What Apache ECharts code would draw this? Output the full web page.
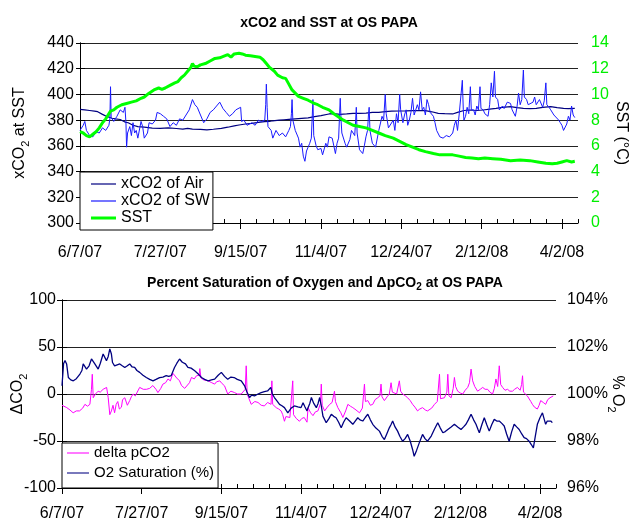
<!DOCTYPE html>
<html><head><meta charset="utf-8">
<script src="https://cdn.jsdelivr.net/npm/echarts@6/dist/echarts.min.js"></script>
<style>html,body{margin:0;padding:0;background:#fff}#c{width:635px;height:519px}</style>
</head><body><div id="c"></div>
<script>
// x positions are days since 6/7/07
const xTickDays = [0,50,100,150,200,250,300];

const airDays = [0,3,6,9,11,14,17,20,22,25,28,30,33,36,40,45,50,55,60,64,67,70,75,79,83,88,92,96,99,103,107,111,115,118,120,124,127,130,134,138,142,146,150,155,158,162,166,170,174,178,182,186,190,194,199,203,207,211,215,219,223,227,232,235,239,243,247,251,255,259,263,268,272,276,280,284,288,293,297,301,304,308];
const airVals = [388.4,388,387.5,387,386.6,384.5,382.7,381.5,381,380.5,378.5,378,376,375,374.5,373.8,373.6,374,373.5,373,373.6,373,372.8,372.5,372.9,373.6,374.5,375.5,376.2,377,377.5,378.3,378.8,379,379.5,380,380.3,380.6,381,381.4,381.8,382.7,383.5,384.8,385,384.5,384.8,385.2,385.3,385.5,386,386,386.6,387,387.1,387.2,387.4,387.5,387.4,386.5,385.3,385,384.8,386,387.5,387.9,387.5,387.9,388.5,389.2,390,390.5,389.8,389.2,389,389.2,390,390.5,389.8,389.2,389,389.2];

const swDays = [0,1,2,3,4,6,8,10,12,14,16,18,18.6,19,19.4,21,23,25,27,28,28.6,29,29.6,31,32,33,34,35,36,37,38,39,40,42,43,45,47,48,50,52,54,56,58,60,62,64,66,68,70,71.5,73,75,77,79,81,83,85,87,89,91,93,95,97,100,100.6,102,104,107,109,111,113,115,115.6,116,116.5,117,119,120,122,124,126,128,130,131,131.6,132,132.5,134,136,137,138,139,140,141,142,143,144,145,145.5,147,148,150,151,153,154,155,157,158,159,160,161,161.6,162,162.5,163,165,166,168,169,171,171.6,172,172.5,174,176,177,178,179,179.6,180,180.5,182,184,186,188,189,190,190.6,192,193,195,196,197,198,199,199.6,201,202,203,204,205,206,207,208,209,210,211,212,213,214,215,216,217,218,220,221,222,224,226,228,230,232,233,234,235,236,237,238,238.6,239,240,241,242,243,243.6,245,246,247,248,249,249.6,251,252,254,255,256,257,258,258.6,260,261,263,264,266,268,269,271,272,273,274,275,276,276.6,278,279,280,282,283,284,286,288,289,290,290.6,292,293,295,296,298,299,300,301,302,303,304,305,306,307,308];
const swVals = [372,371,376,379,372,368,367,371,370,374,372,376,381,406,382,379,383,388,386,390,378,359,370,375,368,378,370,372,366,367,379,375,366,370,378,377,380,386,385,383,381,375,378,376,381,380,384,388,396,392,390,384,378,381,386,388,391,394,389,386,383,385,388,390,379,380,376,378,376,380,379,380,392,408,390,375,372,366,372,368,370,367,372,375,385,396,380,372,366,359,362,352,348,356,359,362,366,396,368,360,357,358,353,362,359,367,366,360,354,362,366,385,397,380,370,362,359,365,372,368,380,390,370,357,354,360,367,372,385,390,372,362,359,372,383,380,400,385,374,375,380,372,385,378,400,388,378,384,388,376,380,386,397,384,385,392,388,402,388,390,384,396,392,386,383,378,372,367,366,368,367,370,376,380,372,384,385,411,388,380,383,390,385,406,388,388,384,391,388,406,389,388,385,383,392,409,398,418,398,396,388,391,389,394,393,388,383,390,401,392,396,419,398,396,392,391,394,398,392,396,390,395,409,392,390,388,384,383,380,378,376,372,372,377,383,380,391,384,382];

const sstDays = [0,2,4,6,8,10,12,14,16,17,19,21,23,26,29,32,35,38,40,43,46,49,51,53,56,59,61,63,65,67,69,70,71,73,75,78,81,84,87,90,92,94,96,99,101,103,106,109,112,114,116,118,121,123,126,128,130,132,134,136,139,142,145,148,151,155,158,161,164,167,170,174,178,182,186,190,195,199,203,207,211,215,220,224,228,232,236,240,244,248,252,257,262,268,274,280,285,290,294,297,300,303,306,308];
const sstVals = [7.1,7.0,6.8,6.7,6.9,7.1,7.4,7.8,8.1,8.3,8.7,8.8,9.0,9.2,9.3,9.4,9.5,9.7,9.8,10.1,10.35,10.5,10.4,10.5,10.7,10.9,11.0,11.3,11.5,11.8,12.1,12.4,12.2,12.15,12.3,12.4,12.6,12.8,12.85,13.0,13.1,12.9,13.15,13.2,13.15,13.05,13.0,12.95,12.9,12.7,12.4,12.1,11.8,11.5,11.3,11.25,10.8,10.35,10.1,9.85,9.7,9.55,9.35,9.2,9.0,8.8,8.5,8.25,8.0,7.8,7.6,7.5,7.4,7.2,7.0,6.8,6.6,6.35,6.1,5.9,5.7,5.55,5.4,5.3,5.3,5.3,5.2,5.1,5.05,5.0,5.05,5.0,4.95,4.85,4.9,4.85,4.75,4.65,4.6,4.65,4.75,4.85,4.75,4.8];

const dpDays = [0,1.25,3,5,7,9,11,13,14.4,16,17.5,18.5,19,19.6,21,22.7,24,25.8,27,28,29,30,31,32,33,34,35,36,37.3,38,39.4,41,42.5,43.5,44.6,46,48.75,51,53,55,57,59,60.2,62,63.3,65,66.5,68,69.6,70.6,72,73.75,75,77,78,80,81.25,83,84.4,86,86.5,87.2,89,91.7,94,95.8,97,99,100.5,102,104,106,108.3,110,112.5,115,115.6,116.2,118.75,121,123,125,127,129,131.2,131.7,132.2,134.4,136,137.5,138.5,139.6,140.5,141.7,143,144.8,145.3,147,149,150.5,152,153.75,154.4,156,157.5,159,160.6,162.2,162.7,163.3,164.8,166.5,168,169.5,171,171.6,173.1,175,176.25,178,179.4,181,182.5,184.5,186.7,188.5,189.8,190.4,191.9,193.5,195,196.5,198.1,199.5,200.2,200.8,202.3,204,205.4,206.5,207.3,208.5,210,211.7,212.5,213.75,215.5,216.9,218.5,220,221.5,223.1,224.5,226.25,228,229.4,230.6,232,233.75,235.5,236.9,237.5,238,240,241.5,242.1,242.8,244.2,245.5,246.25,247,248.3,250,251.5,253,254.6,255.7,256.7,257.7,259,260.8,262.5,264,265.5,267.1,268.5,270.2,271.3,272.3,273.4,274.4,275.3,276.5,278,279.6,281,282.7,284,285.8,287.5,288.4,289,289.6,290.5,292,293.1,294.2,295.2,296.5,298.3,299.4,300.4,302,303.5,304.8,306.25,307.3,308.3];
const dpVals = [-12,-11,-14.5,-17,-20,-18,-18,-15,-11,-13,-11,5,21,-4,0,3,2,5,4,7,-4,-22,-18,-12,-20,-11,-8,-16,-14,-6,-4,-12,-7,-3,0,-2,7,5,5,6,9,5,1.5,6,10.5,12,16,14,22,20,17,14,9,6,7,12,17.6,16,19.4,20,27,17,15,14,12,10.5,13,14,11,8.7,0,3,1.5,0,0,5,30,0,-11,-8,-9,-12,-12.7,-9,-11,14,-11,-14.5,-16,-18,-22,-29,-24,-22,-25,14,-22,-26,-29,-26,-25,-30,-14.5,-20,-23,-19,-18,-10,10.5,-12,-18,-14,-11,-9,3,-8,-14.5,-20,-25,-18,-11,-13,-14.5,-17,-20,-15,10.5,-8,-7,-12,-11,-6,-4,-2,10.5,-3,-7,-3,0,12,2,3,0,14,3,0,-2,-4,-7,-11,-14,-18,-16,-14.5,-17,-18,-18,-15,-11,-8,21,-5,-7,-4,2,21,-2,-4,6,17.6,8,3,1,0,4,7,12,26.5,14,8,3,5,7,5,5,2,0,6,16,8,30,10,7,4,5,3,3,5,7,4,10,19.4,2,0,-2,-4,-8,-11,-14,-16,-12,-7,-9,-11,-6,-4,-3,-2];

const o2Days = [0,1,1.9,2.9,4,5.5,7.1,9,11.25,12.5,13.3,15.4,17,18.5,20.6,22.7,24,25.8,27.9,29,30,31,31.7,33,34.2,36.25,37.8,39.4,41,42.5,44,45.6,47,48.75,50.8,52.9,55,57.1,59,61.25,63.3,65.4,67,68.5,70.6,72,73.75,75.5,77.5,79,81,83.3,85.5,87.5,89.5,91.7,93.8,95.8,98,100,102,104,106,108,110,112.5,114.6,116,117.7,119,120.8,123,125,127,129,130,131,132,133.3,135,136.5,138,139.6,140.7,141.7,143.8,145.8,148,150,151.25,152.5,153.75,154.4,155.5,156.5,158,159.6,160.7,161.7,162.7,163.75,165.8,167.5,169,170.5,172,173.6,175.2,176.7,178.3,180.5,182.5,184,185.6,187,188.75,190.3,191.9,193.5,195,197,199.2,200.8,202.3,203.8,205.4,206.5,207.5,209,210.6,212,213.75,215.3,216.9,218.5,220,221,222.5,224.2,225.2,226.25,227.8,229.4,230.6,231.7,233.7,235.8,237.4,239,240.5,242.1,244.2,246.25,248.3,250.4,252,253.5,255,256.7,258.3,259.8,261,261.9,263.5,265,266.5,268.1,269.7,271.25,272.8,274.4,276,277.5,279,280.6,282.2,283.75,285.3,286.9,288.5,290,291.5,293.1,294.5,295.8,297,298.3,300,301.5,302.5,303.5,304.5,305.6,306.7,307.7];
const o2Vals = [100.35,101.3,101.42,101.28,100.7,100.6,100.56,100.65,100.85,101.0,101.28,101.06,101.2,101.49,101.28,101.06,101.3,101.7,101.42,101.6,101.92,101.7,101.34,101.2,101.13,101.28,101.2,101.13,101.2,101.28,101.15,101.13,101.0,100.92,100.8,100.7,100.62,100.56,100.62,100.7,100.72,100.78,100.75,100.78,101.13,101.3,101.49,101.35,101.28,101.13,101.1,100.99,100.85,100.7,100.62,100.56,100.6,100.63,100.8,100.92,100.75,100.63,100.72,100.7,100.62,100.56,100.35,100.1,99.85,99.95,99.92,100.0,100.06,100.1,100.13,100.2,100.28,100.0,99.85,99.7,99.56,99.5,99.42,99.3,99.2,99.4,99.49,99.45,99.42,99.63,99.45,99.28,99.42,99.6,99.85,99.6,99.42,99.6,99.85,99.5,99.06,98.78,98.95,99.14,99.05,98.99,98.8,98.56,98.8,98.99,98.85,98.71,98.85,98.99,98.9,98.85,99.0,99.14,98.9,98.71,98.55,98.42,98.2,98.06,98.3,98.56,98.7,98.85,98.6,98.42,98.2,97.99,98.1,98.28,98.0,97.64,97.35,97.6,97.92,98.1,98.28,98.1,97.99,98.0,98.21,98.5,98.78,98.55,98.35,98.4,98.49,98.6,98.71,98.6,98.49,98.6,98.71,98.9,99.14,98.9,98.71,98.5,98.35,98.7,98.99,98.7,98.42,98.7,98.92,98.85,98.85,98.75,98.64,98.3,97.99,98.4,98.71,98.6,98.49,98.3,98.14,98.1,97.99,97.85,97.71,98.2,98.71,99.0,99.2,98.95,98.71,98.85,98.92,98.85,98.78];

const zip = (a, b) => a.map((d, i) => [d, b[i]]);
const F = 'Liberation Sans, Arial, sans-serif';
const base = Date.UTC(2007, 5, 7);
function fmtDay(d) {
  const t = new Date(base + d * 864e5);
  return (t.getUTCMonth() + 1) + '/' + t.getUTCDate() + '/' + String(t.getUTCFullYear()).slice(2);
}
const richName = {
  a: {fontSize: 16, fontFamily: F, color: '#000', lineHeight: 22},
  s: {fontSize: 11, fontFamily: F, color: '#000', lineHeight: 11, verticalAlign: 'bottom'}
};
const gridLine = {show: true, lineStyle: {color: '#222', width: 1}};
const blackLine = {show: true, lineStyle: {color: '#000', width: 1}};
const thinIcon = 'path://M0,0H25V1.2H0Z';
const thickIcon = 'path://M0,0H25V3H0Z';

function majorX(grid) {
  return {
    type: 'value', gridIndex: grid, min: 0, max: 310, interval: 50, position: 'bottom',
    axisLine: {show: true, onZero: false, lineStyle: {color: '#000', width: 1}},
    axisTick: {show: true, inside: false, length: 6, lineStyle: {color: '#000'}, customValues: xTickDays},
    axisLabel: {show: true, fontSize: 16, fontFamily: F, color: '#000', margin: grid === 0 ? 22 : 18,
      customValues: xTickDays, formatter: v => fmtDay(v)},
    splitLine: {show: false}
  };
}
function minorX(grid) {
  return {
    type: 'value', gridIndex: grid, min: 0, max: 310, interval: 10, position: 'bottom',
    axisLine: {show: false, onZero: false},
    axisTick: {show: true, inside: true, length: 4, lineStyle: {color: '#000'}},
    axisLabel: {show: false}, splitLine: {show: false}
  };
}

const option = {
  animation: false,
  backgroundColor: '#fff',
  title: [
    {text: 'xCO2 and SST at OS PAPA', left: 324, top: 11, textAlign: 'center',
      textStyle: {fontSize: 14, fontWeight: 'bold', fontFamily: F, color: '#000'}},
    {text: '{b|Percent Saturation of Oxygen and ΔpCO}{bs|2}{b| at OS PAPA}', left: 320, top: 269, textAlign: 'center',
      textStyle: {rich: {
        b: {fontSize: 14, fontWeight: 'bold', fontFamily: F, color: '#000', lineHeight: 18},
        bs: {fontSize: 10, fontWeight: 'bold', fontFamily: F, color: '#000', lineHeight: 10, verticalAlign: 'bottom'}
      }}}
  ],
  grid: [
    {left: 80, right: 57, top: 43, height: 180, outerBoundsMode: 'none', containLabel: false},
    {left: 62, right: 79, top: 300, height: 188, outerBoundsMode: 'none', containLabel: false}
  ],
  legend: [
    {orient: 'vertical', left: 80, top: 172, itemWidth: 25, itemHeight: 10, itemGap: 1,
      padding: [4, 3, 4, 11], backgroundColor: '#fff', borderColor: '#000', borderWidth: 1, borderRadius: 0,
      textStyle: {fontSize: 16, fontFamily: F, color: '#000', lineHeight: 14},
      data: [{name: 'xCO2 of Air', icon: thinIcon}, {name: 'xCO2 of SW', icon: thinIcon}, {name: 'SST', icon: thickIcon}]},
    {orient: 'vertical', left: 62, top: 443, itemWidth: 22, itemHeight: 10, itemGap: 4,
      padding: [2, 4, 7, 5], backgroundColor: '#fff', borderColor: '#000', borderWidth: 1, borderRadius: 0,
      textStyle: {fontSize: 15, fontFamily: F, color: '#000', lineHeight: 16},
      data: [{name: 'delta pCO2', icon: thinIcon}, {name: 'O2 Saturation (%)', icon: thinIcon}]}
  ],
  xAxis: [majorX(0), minorX(0), majorX(1), minorX(1)],
  yAxis: [
    {type: 'value', gridIndex: 0, position: 'left', min: 300, max: 440, interval: 20,
      axisLine: blackLine, axisTick: {show: true, length: 4, lineStyle: {color: '#000'}},
      axisLabel: {fontSize: 16, fontFamily: F, color: '#000', margin: 6},
      splitLine: gridLine,
      name: '{a|xCO}{s|2}{a| at SST}', nameLocation: 'middle', nameGap: 49, nameRotate: 90, nameMoveOverlap: false,
      nameTextStyle: {rich: richName}},
    {type: 'value', gridIndex: 0, position: 'right', min: 0, max: 14, interval: 2,
      axisLine: blackLine, axisTick: {show: true, length: 5, lineStyle: {color: '#000'}},
      axisLabel: {fontSize: 16, fontFamily: F, color: '#00ee00', margin: 13},
      splitLine: {show: false},
      name: 'SST (°C)', nameLocation: 'middle', nameGap: 35, nameRotate: -90, nameMoveOverlap: false,
      nameTextStyle: {fontSize: 16, fontFamily: F, color: '#000'}},
    {type: 'value', gridIndex: 1, position: 'left', min: -100, max: 100, interval: 50,
      axisLine: blackLine, axisTick: {show: true, length: 5, lineStyle: {color: '#000'}},
      axisLabel: {fontSize: 16, fontFamily: F, color: '#000', margin: 6},
      splitLine: gridLine,
      name: '{a|ΔCO}{s|2}', nameLocation: 'middle', nameGap: 33, nameRotate: 90, nameMoveOverlap: false,
      nameTextStyle: {rich: richName}},
    {type: 'value', gridIndex: 1, position: 'right', min: 96, max: 104, interval: 2,
      axisLine: blackLine, axisTick: {show: true, length: 5, lineStyle: {color: '#000'}},
      axisLabel: {fontSize: 16, fontFamily: F, color: '#000', margin: 11, formatter: v => v + '%'},
      splitLine: {show: false},
      name: '{a|% O}{s|2}', nameLocation: 'middle', nameGap: 50, nameRotate: -90, nameMoveOverlap: false,
      nameTextStyle: {rich: richName}}
  ],
  series: [
    {name: 'xCO2 of Air', type: 'line', xAxisIndex: 0, yAxisIndex: 0, data: zip(airDays, airVals),
      symbol: 'none', lineStyle: {color: '#000080', width: 1.2}, itemStyle: {color: '#000080'}, z: 2},
    {name: 'xCO2 of SW', type: 'line', xAxisIndex: 0, yAxisIndex: 0, data: zip(swDays, swVals),
      symbol: 'none', lineStyle: {color: '#1a1aff', width: 1}, itemStyle: {color: '#1a1aff'}, z: 3},
    {name: 'SST', type: 'line', xAxisIndex: 0, yAxisIndex: 1, data: zip(sstDays, sstVals),
      symbol: 'none', lineStyle: {color: '#00ff00', width: 3}, itemStyle: {color: '#00ff00'}, z: 4},
    {name: 'delta pCO2', type: 'line', xAxisIndex: 2, yAxisIndex: 2, data: zip(dpDays, dpVals),
      symbol: 'none', lineStyle: {color: '#ff00ff', width: 1}, itemStyle: {color: '#ff00ff'}, z: 2},
    {name: 'O2 Saturation (%)', type: 'line', xAxisIndex: 2, yAxisIndex: 3, data: zip(o2Days, o2Vals),
      symbol: 'none', lineStyle: {color: '#000080', width: 1.3}, itemStyle: {color: '#000080'}, z: 3}
  ]
};
const chart = echarts.init(document.getElementById('c'), null, {renderer: 'canvas'});
chart.setOption(option);
</script>
</body></html>
